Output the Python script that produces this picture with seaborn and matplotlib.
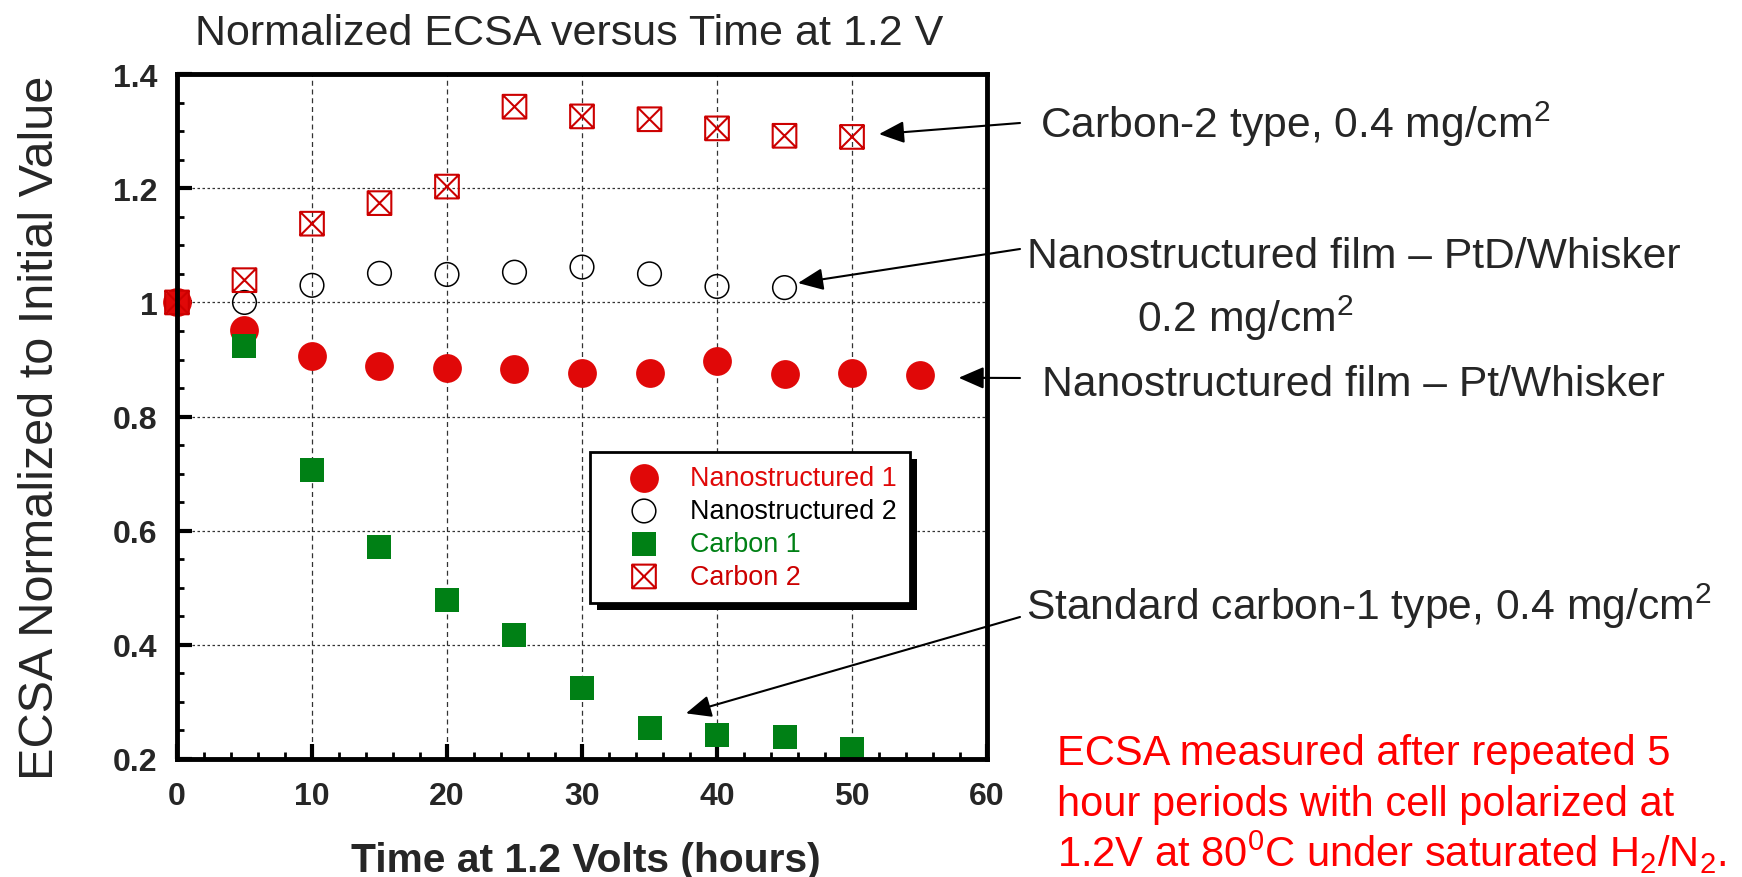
import matplotlib
matplotlib.use("Agg")
import matplotlib.pyplot as plt
from matplotlib.path import Path
from matplotlib.patches import Rectangle
from matplotlib.ticker import MultipleLocator
import numpy as np
import pandas as pd
import seaborn as sns

# data
hours_nano1 = [0, 5, 10, 15, 20, 25, 30, 35, 40, 45, 50, 55]
nano1 = [1.0, 0.951, 0.907, 0.889, 0.885, 0.884, 0.877, 0.877, 0.897, 0.874, 0.876, 0.873]
hours_nano2 = [5, 10, 15, 20, 25, 30, 35, 40, 45]
nano2 = [1.0, 1.030, 1.051, 1.049, 1.053, 1.062, 1.050, 1.028, 1.026]
hours_carbon1 = [5, 10, 15, 20, 25, 30, 35, 40, 45, 50]
carbon1 = [0.923, 0.706, 0.571, 0.479, 0.417, 0.325, 0.255, 0.242, 0.238, 0.217]
hours_carbon2 = [0, 5, 10, 15, 20, 25, 30, 35, 40, 45, 50]
carbon2 = [1.0, 1.039, 1.138, 1.174, 1.203, 1.343, 1.326, 1.321, 1.305, 1.292, 1.290]

labels = ["Nanostructured 1", "Nanostructured 2", "Carbon 1", "Carbon 2"]
xticks = [0, 10, 20, 30, 40, 50, 60]
xtick_labels = ["0", "10", "20", "30", "40", "50", "60"]
yticks = [0.2, 0.4, 0.6, 0.8, 1.0, 1.2, 1.4]
ytick_labels = ["0.2", "0.4", "0.6", "0.8", "1", "1.2", "1.4"]

red = "#e00808"
red2 = "#cc0000"
green = "#008015"

sns.set_style("white")
plt.rcParams['font.family'] = ['Liberation Sans', 'DejaVu Sans']
plt.rcParams['mathtext.fontset'] = 'custom'
plt.rcParams['mathtext.rm'] = 'Liberation Sans'
plt.rcParams['mathtext.it'] = 'Liberation Sans:italic'
plt.rcParams['mathtext.bf'] = 'Liberation Sans:bold'
plt.rcParams['xtick.labelsize'] = 23
plt.rcParams['ytick.labelsize'] = 23

# square with an X inside
boxx = Path([(-1, -1), (1, -1), (1, 1), (-1, 1), (-1, -1),
             (-1, -1), (1, 1), (-1, 1), (1, -1)],
            [Path.MOVETO, Path.LINETO, Path.LINETO, Path.LINETO, Path.CLOSEPOLY,
             Path.MOVETO, Path.LINETO, Path.MOVETO, Path.LINETO])

fig = plt.figure(figsize=(17.42, 8.78), dpi=100)
ax = fig.add_axes([0.1016, 0.1344, 0.465, 0.780])

sns.scatterplot(x=hours_nano1, y=nano1, ax=ax, marker='o', s=430, color=red,
                edgecolor=red, linewidth=0, label=labels[0], clip_on=False)
sns.scatterplot(x=hours_nano2, y=nano2, ax=ax, marker='o', s=290, facecolor='none',
                edgecolor='black', linewidth=1.1, label=labels[1], clip_on=False)
sns.scatterplot(x=hours_carbon1, y=carbon1, ax=ax, marker='s', s=300, color=green,
                edgecolor=green, linewidth=0, label=labels[2], clip_on=False)
sns.scatterplot(x=hours_carbon2, y=carbon2, ax=ax, marker=boxx, s=290, facecolor='none',
                edgecolor=red2, linewidth=1.5, label=labels[3], clip_on=False)

ax.set_xticks(xticks)
ax.set_xticklabels(xtick_labels, fontsize=23, fontweight='bold')
ax.set_yticks(yticks)
ax.set_yticklabels(ytick_labels, fontsize=23, fontweight='bold')
ax.xaxis.set_minor_locator(MultipleLocator(2))
ax.yaxis.set_minor_locator(MultipleLocator(0.05))
ax.set_xlim(0, 60)
ax.set_ylim(0.2, 1.4)
ax.set_xlabel("")
ax.set_ylabel("")

for sp in ax.spines.values():
    sp.set_linewidth(3.5)
    sp.set_color('black')
    sp.set_zorder(3)
ax.tick_params(which='both', direction='in', left=True, bottom=True, top=False, right=False)
ax.tick_params(which='major', length=11, width=3, color='black')
ax.tick_params(axis='y', which='major', pad=14)
ax.tick_params(axis='x', which='major', pad=16)
ax.tick_params(which='minor', length=5, width=2, color='black')

ax.set_axisbelow(True)
ax.xaxis.grid(True, which='major', color='#333333', lw=0.9, ls=(0, (4, 3)))
ax.yaxis.grid(True, which='major', color='#333333', lw=0.9, ls=(0, (2, 2)))

leg = ax.legend(loc='upper left', bbox_to_anchor=(0.51, 0.4485), borderaxespad=0,
                fontsize=19.4, frameon=True, fancybox=False, framealpha=1,
                edgecolor='black', handlelength=3.0, handletextpad=0.2,
                borderpad=0.5, labelspacing=0.25,
                labelcolor=[red, 'black', green, red2])
leg.get_frame().set_linewidth(2)

# titles / axis labels
fig.text(195 / 1742, 1 - 45 / 878, "Normalized ECSA versus Time at 1.2 V",
         fontsize=31, ha='left', va='baseline')
fig.text(41 / 1742, 1 - 428 / 878, "ECSA Normalized to Initial Value",
         fontsize=35, rotation=90, ha='center', va='center')
fig.text(586 / 1742, 1 - 872 / 878, "Time at 1.2 Volts (hours)",
         fontsize=29.3, fontweight='bold', ha='center', va='baseline')

# callouts
notes = [
    ("Carbon-2 type, 0.4 mg/cm$^2$", 1040, 138),
    ("Nanostructured film – PtD/Whisker", 1027, 268),
    ("0.2 mg/cm$^2$", 1137, 332),
    ("Nanostructured film – Pt/Whisker", 1042, 396),
    ("Standard carbon-1 type, 0.4 mg/cm$^2$", 1026, 620),
]
for txt, px, py in notes:
    fig.text(px / 1742, 1 - py / 878, txt, fontsize=30.7, ha='left', va='baseline')

arrows = [((52.0, 1.295), (1020, 124)),
          ((46.0, 1.034), (1020, 250)),
          ((57.9, 0.868), (1020, 379)),
          ((37.7, 0.280), (1020, 618))]
for tip, (tx, ty) in arrows:
    ax.annotate('', xy=tip, xycoords='data',
                xytext=(tx / 1742, 1 - ty / 878), textcoords='figure fraction',
                annotation_clip=False,
                arrowprops=dict(arrowstyle='-|>,head_length=0.55,head_width=0.24',
                                mutation_scale=28, color='black', lw=1.5,
                                shrinkA=0, shrinkB=0))

red_lines = [("ECSA measured after repeated 5", 765),
             ("hour periods with cell polarized at", 816),
             ("1.2V at 80$^\\mathrm{0}$C under saturated H$_\\mathrm{2}$/N$_\\mathrm{2}$.", 867)]
for txt, py in red_lines:
    fig.text(1057 / 1742, 1 - py / 878, txt, fontsize=30, color='#ff0000',
             ha='left', va='baseline')

# black drop shadow behind the legend
fig.canvas.draw()
bb = leg.get_frame().get_window_extent()
shadow = Rectangle((bb.x0 + 7, bb.y0 - 7), bb.width, bb.height, transform=None,
                   facecolor='black', edgecolor='none', zorder=leg.get_zorder() - 0.1,
                   clip_on=False)
ax.add_artist(shadow)

plt.savefig("out.png", dpi=100)
